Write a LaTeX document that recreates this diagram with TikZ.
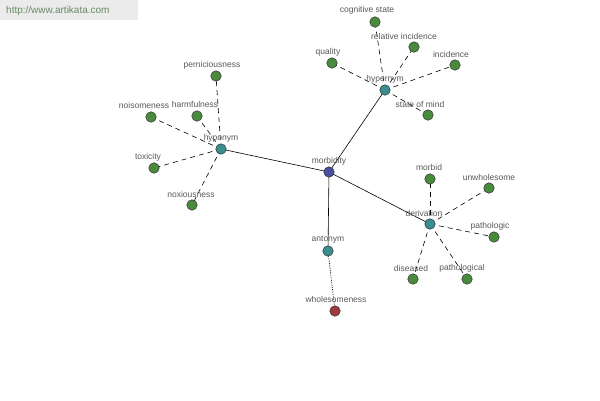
\documentclass[tikz,border=0pt]{standalone}
\usepackage{fontspec}
\setmainfont{Liberation Sans}
\definecolor{cleaf}{RGB}{74,138,60}
\definecolor{chub}{RGB}{58,142,144}
\definecolor{croot}{RGB}{72,78,160}
\definecolor{canti}{RGB}{158,58,64}
\begin{document}
\begin{tikzpicture}[x=1pt,y=-1pt,
  dot/.style={circle,draw=black!80,line width=0.5pt,minimum size=10.5pt,inner sep=0pt},
  leaf/.style={dot,fill=cleaf},
  hub/.style={dot,fill=chub},
  root/.style={dot,fill=croot},
  anti/.style={dot,fill=canti},
  lab/.style={font=\fontsize{8.5}{9}\selectfont,text=black!65,inner sep=0pt},
  sol/.style={line width=0.6pt},
  dsh/.style={line width=0.6pt,dash pattern=on 5pt off 4pt},
  dtt/.style={line width=0.6pt,dash pattern=on 1.2pt off 1.2pt}]
\useasboundingbox (0,0) rectangle (600,400);
\fill[white] (0,0) rectangle (600,400);
\fill[black!8] (0,0) rectangle (138,20);
\node[font=\fontsize{10}{11}\selectfont,text=green!25!black!60,anchor=west,inner sep=0pt] (wm) at (6,11) {http://www.artikata.com};
% nodes
\coordinate (morb) at (329,172);
\coordinate (hypo) at (221,149);
\coordinate (hyper) at (385,90);
\coordinate (deriv) at (430,224);
\coordinate (ant) at (328,251);
\coordinate (whole) at (335,311);
\coordinate (pern) at (216,76);
\coordinate (harm) at (197,116);
\coordinate (nois) at (151,117);
\coordinate (tox) at (154,168);
\coordinate (nox) at (192,205);
\coordinate (cog) at (375,22);
\coordinate (rel) at (414,47);
\coordinate (qual) at (332,63);
\coordinate (inc) at (455,65);
\coordinate (som) at (428,115);
\coordinate (mbd) at (430,179);
\coordinate (unw) at (489,188);
\coordinate (patc) at (494,237);
\coordinate (dis) at (413,279);
\coordinate (patl) at (467,279);
% edges
\draw[sol] (morb) -- (hypo);
\draw[sol] (morb) -- (hyper);
\draw[sol] (morb) -- (deriv);
\draw[sol] (morb) -- (ant);
\draw[dtt] (ant) -- (whole);
\foreach \l in {pern,harm,nois,tox,nox} \draw[dsh] (hypo) -- (\l);
\foreach \l in {cog,rel,qual,inc,som} \draw[dsh] (hyper) -- (\l);
\foreach \l in {mbd,unw,patc,dis,patl} \draw[dsh] (deriv) -- (\l);
% circles
\node[root] (nmorb) at (morb) {};
\node[hub] (nhypo) at (hypo) {};
\node[hub] (nhyper) at (hyper) {};
\node[hub] (nderiv) at (deriv) {};
\node[hub] (nant) at (ant) {};
\node[anti] (nwhole) at (whole) {};
\foreach \l in {pern,harm,nois,tox,nox,cog,rel,qual,inc,som,mbd,unw,patc,dis,patl} \node[leaf] (n\l) at (\l) {};
% labels
\node[lab] (lmorb) at (329,161) {morbidity};
\node[lab] (lhypo) at (221,138) {hyponym};
\node[lab] (lhyper) at (385,79) {hypernym};
\node[lab] (lderiv) at (424,213) {derivation};
\node[lab] (lant) at (328,240) {antonym};
\node[lab] (lwhole) at (336,299) {wholesomeness};
\node[lab] (lpern) at (212,65) {perniciousness};
\node[lab] (lharm) at (195,104) {harmfulness};
\node[lab] (lnois) at (144,105) {noisomeness};
\node[lab] (ltox) at (148,157) {toxicity};
\node[lab] (lnox) at (191,194) {noxiousness};
\node[lab] (lcog) at (367,10) {cognitive state};
\node[lab] (lrel) at (404,36) {relative incidence};
\node[lab] (lqual) at (328,52) {quality};
\node[lab] (linc) at (451,54) {incidence};
\node[lab] (lsom) at (420,104) {state of mind};
\node[lab] (lmbd) at (429,167) {morbid};
\node[lab] (lunw) at (489,177) {unwholesome};
\node[lab] (lpatc) at (490,226) {pathologic};
\node[lab] (ldis) at (411,268) {diseased};
\node[lab] (lpatl) at (462,268) {pathological};
\end{tikzpicture}
\end{document}
